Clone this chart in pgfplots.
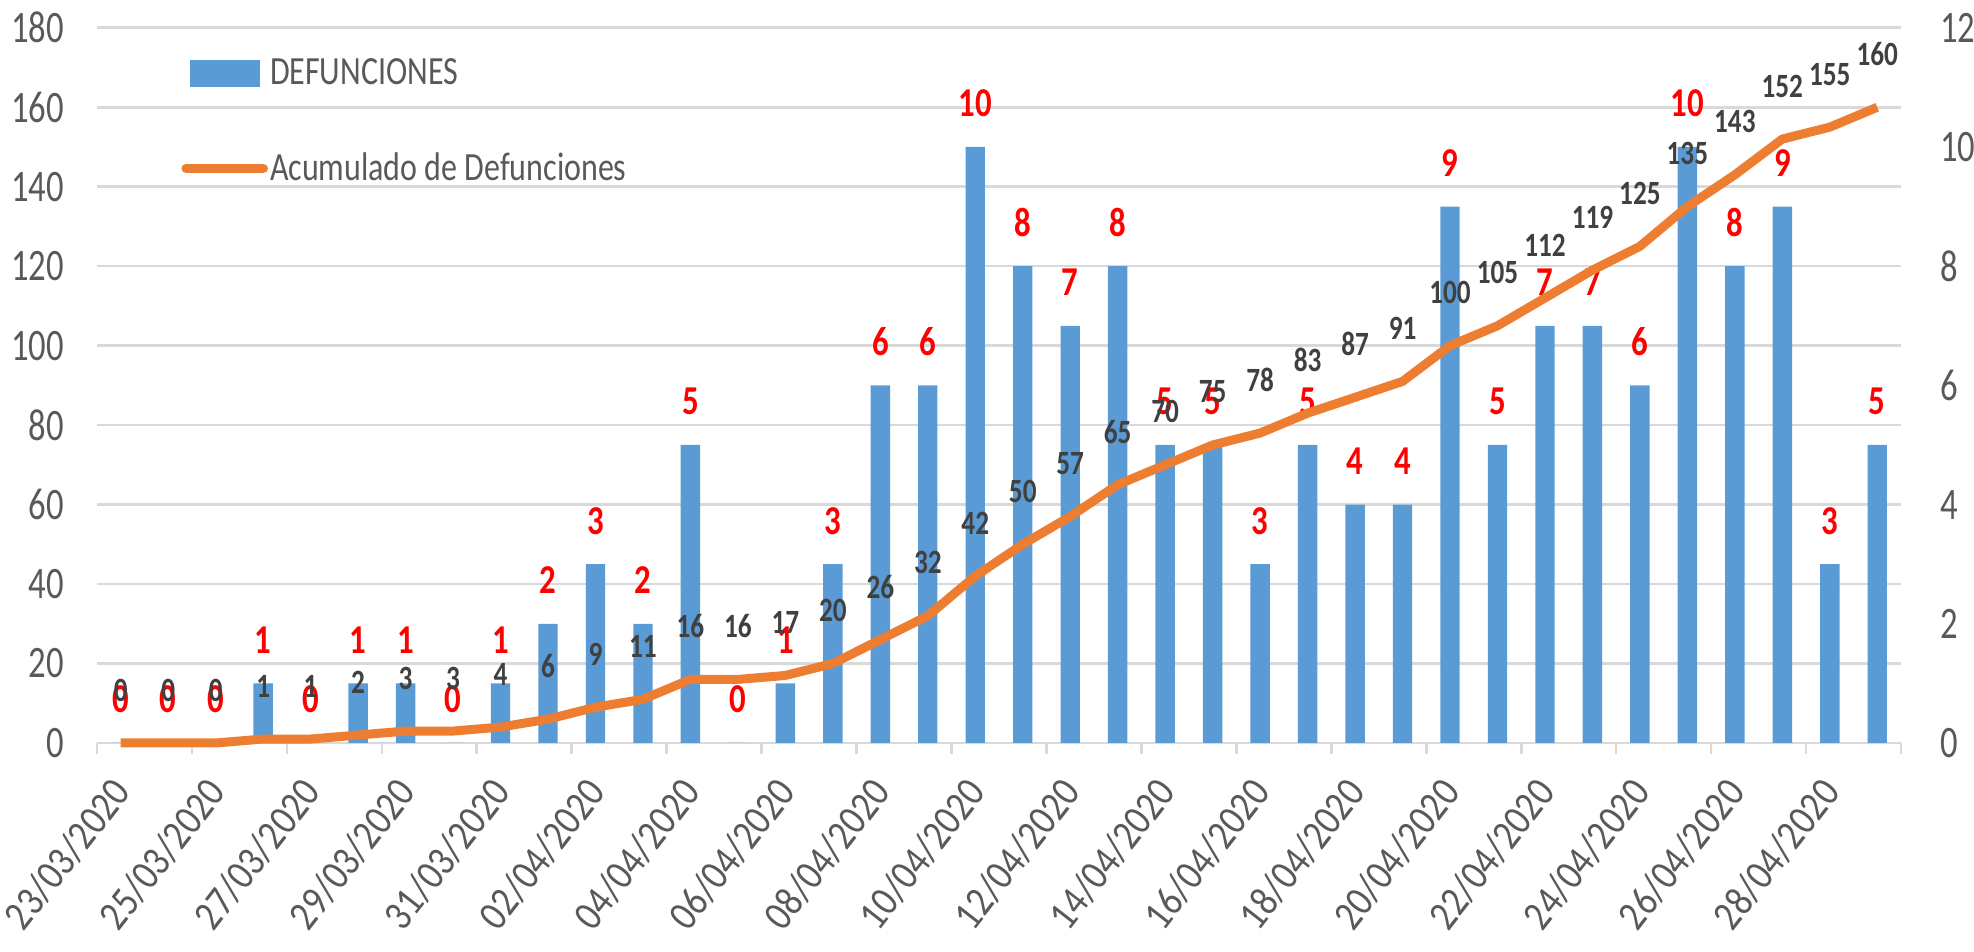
\documentclass[border=0pt]{standalone}
\usepackage{pgfplots}
\pgfplotsset{compat=1.18}
\usepackage{fontspec}
\setmainfont[FakeStretch=0.8]{Carlito}
\newfontfamily\tickfont[FakeStretch=0.77]{Carlito}
\newfontfamily\datefont[FakeStretch=0.87]{Carlito}
\definecolor{barblue}{HTML}{5B9BD5}
\definecolor{lineorange}{HTML}{ED7D31}
\definecolor{gridgray}{HTML}{D9D9D9}
\definecolor{tickgray}{HTML}{595959}
\definecolor{labgray}{HTML}{404040}
\definecolor{labred}{HTML}{FF0000}
\pgfplotsset{
  base/.style={
    at={(0pt,0pt)}, anchor=south west,
    scale only axis, width=902pt, height=357.6pt,
    xmin=-0.5, xmax=37.5, ymin=0,
    /pgf/number format/assume math mode=true,
    clip=false,
  },
}
\begin{document}
\begin{tikzpicture}
\path[use as bounding box] (-48.5pt,-104.5pt) rectangle (938.5pt,371.5pt);
% axis 1: grid, left ticks, date labels
\begin{axis}[base, ymax=180,
  axis line style={draw=none},
  ytick={0,20,...,180},
  ymajorgrids, grid style={gridgray, line width=1.3pt},
  major tick length=0pt,
  tick pos=left,
  xtick={0,2,...,36},
  xticklabels={23/03/2020,25/03/2020,27/03/2020,29/03/2020,31/03/2020,02/04/2020,04/04/2020,06/04/2020,08/04/2020,10/04/2020,12/04/2020,14/04/2020,16/04/2020,18/04/2020,20/04/2020,22/04/2020,24/04/2020,26/04/2020,28/04/2020},
  xticklabel style={yshift=-15.8pt, xshift=-5.7pt, rotate=52, anchor=north east, inner sep=0pt, font=\datefont\fontsize{21}{24}\selectfont, text=tickgray},
  yticklabel style={font=\tickfont\fontsize{22.5}{26}\selectfont, text=tickgray, xshift=-13pt},
  extra x ticks={-0.5,1.5,...,37.5},
  extra x tick labels={},
  extra x tick style={major tick length=5.5pt, tick align=outside, tick style={gridgray, line width=1.3pt}},
]
\addplot[draw=none] coordinates {(0,0)};
\end{axis}
% axis 2: daily bars (right axis)
\begin{axis}[base, ymax=12,
  axis line style={draw=none},
  xtick=\empty,
  ytick={0,2,...,12},
  ytick pos=right,
  major tick length=0pt,
  yticklabel style={font=\tickfont\fontsize{22.5}{26}\selectfont, text=tickgray, xshift=16pt},
  ybar, bar width=9.7pt,
  nodes near coords={\pgfmathprintnumber{\pgfplotspointmeta}},
  every node near coord/.append style={anchor=center, yshift=21.7pt, font=\bfseries\fontsize{20.5}{24}\selectfont, text=labred},
]
\addplot[fill=barblue, draw=none] coordinates {
(0,0) (1,0) (2,0) (3,1) (4,0) (5,1) (6,1) (7,0) (8,1) (9,2)
(10,3) (11,2) (12,5) (13,0) (14,1) (15,3) (16,6) (17,6) (18,10) (19,8)
(20,7) (21,8) (22,5) (23,5) (24,3) (25,5) (26,4) (27,4) (28,9) (29,5)
(30,7) (31,7) (32,6) (33,10) (34,8) (35,9) (36,3) (37,5)};
\end{axis}
% axis 3: cumulative line (left axis)
\begin{axis}[base, ymax=180, hide axis,
  nodes near coords={\pgfmathprintnumber{\pgfplotspointmeta}},
  every node near coord/.append style={anchor=center, yshift=26.5pt, font=\bfseries\fontsize{17}{20}\selectfont, text=labgray},
  legend style={at={(rel axis cs:0,1)}, anchor=north west, xshift=42pt, yshift=-14.4pt,
    draw=none, fill=none, inner sep=0pt, row sep=30.5pt,
    font=\fontsize{20}{24}\selectfont, text=tickgray,
    nodes={inner sep=1pt}},
  legend cell align=left,
]
\addlegendimage{legend image code/.code={\fill[barblue] (1pt,-6.7pt) rectangle (35.5pt,6.7pt);}}
\addlegendentry{DEFUNCIONES}
\addplot[lineorange, line width=4.5pt, line join=round, mark=none,
  legend image code/.code={\draw[lineorange, line width=4.8pt, line cap=round] (-1pt,0pt) -- (37.5pt,0pt);}]
coordinates {
(0,0) (1,0) (2,0) (3,1) (4,1) (5,2) (6,3) (7,3) (8,4) (9,6)
(10,9) (11,11) (12,16) (13,16) (14,17) (15,20) (16,26) (17,32) (18,42) (19,50)
(20,57) (21,65) (22,70) (23,75) (24,78) (25,83) (26,87) (27,91) (28,100) (29,105)
(30,112) (31,119) (32,125) (33,135) (34,143) (35,152) (36,155) (37,160)};
\addlegendentry{Acumulado de Defunciones}
\end{axis}
\end{tikzpicture}
\end{document}
